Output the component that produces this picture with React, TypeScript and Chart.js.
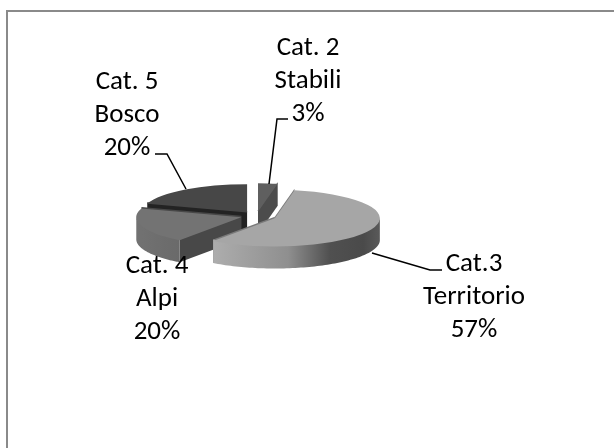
import React, { useEffect, useRef } from "react";
import { Chart, registerables } from "chart.js";

Chart.register(...registerables);

const categories = ["Cat. 2 Stabili", "Cat.3 Territorio", "Cat. 4 Alpi", "Cat. 5 Bosco"];
const values = [3, 57, 20, 20];
const topColors = ["#5f5f5f", "#a6a6a6", "#737373", "#474747"];
const faceColors = ["#4c4c4c", "#7a7a7a", "#484848", "#232323"];
const explode = [16, 20, 16, 16];
const rimStops: [number, string][][] = [
  [[0, "#505050"], [1, "#505050"]],
  [[0, "#adadad"], [0.45, "#8f8f8f"], [0.7, "#505050"], [0.9, "#4a4a4a"], [1, "#5a5a5a"]],
  [[0, "#727272"], [1, "#6a6a6a"]],
  [[0, "#333333"], [1, "#333333"]],
];
const drawOrder = [3, 0, 2, 1];
const labelLines = [
  ["Cat. 2", "Stabili", "3%"],
  ["Cat.3", "Territorio", "57%"],
  ["Cat. 4", "Alpi", "20%"],
  ["Cat. 5", "Bosco", "20%"],
];
const labelCenters = [
  [308, 81],
  [474, 297],
  [157, 299],
  [127, 115],
];
const leaders = [
  [[288, 119], [277, 119], [269, 184]],
  [[442, 270], [430, 270], [372, 253]],
  [],
  [[155, 154], [167, 154], [186, 189]],
];

const SQUASH = 0.27;
const DEPTH = 22;
const OVERLAP = 1.5;
const FONT = '27px Carlito, Calibri, "Open Sans", "Noto Sans", sans-serif';

const pie3d = {
  id: "pie3d",
  afterDatasetsUpdate(chart: any) {
    // explode each slice by moving its arc element along its bisector
    chart.getDatasetMeta(0).data.forEach((arc: any, i: number) => {
      const mid = (arc.startAngle + arc.endAngle) / 2;
      arc.x += Math.cos(mid) * explode[i];
      arc.y += Math.sin(mid) * explode[i];
    });
  },
  beforeDatasetsDraw(chart: any) {
    const { ctx } = chart;
    const arcs = chart.getDatasetMeta(0).data;
    const cy = chart.chartArea.top + chart.chartArea.height / 2;
    const yOf = (y: number) => cy + (y - cy) * SQUASH;
    ctx.save();
    drawOrder.forEach((i) => {
      const arc = arcs[i];
      const r = arc.outerRadius;
      const ox = arc.x;
      const oy = arc.y;
      const X = (a: number) => ox + Math.cos(a) * r;
      const Y = (a: number) => yOf(oy + Math.sin(a) * r);
      // cut faces, tucked under the top surface so no seam shows
      [arc.endAngle, arc.startAngle].forEach((a: number) => {
        ctx.fillStyle = faceColors[i];
        ctx.beginPath();
        ctx.moveTo(ox, yOf(oy) - OVERLAP);
        ctx.lineTo(X(a), Y(a) - OVERLAP);
        ctx.lineTo(X(a), Y(a) + DEPTH);
        ctx.lineTo(ox, yOf(oy) + DEPTH);
        ctx.closePath();
        ctx.fill();
      });
      // outer rim: only the front half shows
      const s = Math.max(arc.startAngle, 0);
      const e = Math.min(arc.endAngle, Math.PI);
      if (e > s) {
        const x0 = Math.min(X(s), X(e), s <= Math.PI && e >= Math.PI ? X(Math.PI) : Infinity);
        const x1 = Math.max(X(s), X(e), s <= 0 ? X(0) : -Infinity);
        const g = ctx.createLinearGradient(x0, 0, x1, 0);
        rimStops[i].forEach(([p, c]) => g.addColorStop(p, c));
        ctx.fillStyle = g;
        const steps = 80;
        ctx.beginPath();
        for (let k = 0; k <= steps; k++) {
          const a = s + ((e - s) * k) / steps;
          if (k === 0) ctx.moveTo(X(a), Y(a) - OVERLAP);
          else ctx.lineTo(X(a), Y(a) - OVERLAP);
        }
        for (let k = steps; k >= 0; k--) {
          const a = s + ((e - s) * k) / steps;
          ctx.lineTo(X(a), Y(a) + DEPTH);
        }
        ctx.closePath();
        ctx.fill();
      }
    });
    ctx.restore();
    ctx.save();
    ctx.translate(0, cy);
    ctx.scale(1, SQUASH);
    ctx.translate(0, -cy);
  },
  afterDatasetsDraw(chart: any) {
    const { ctx } = chart;
    ctx.restore();
    ctx.save();
    ctx.strokeStyle = "#000";
    ctx.lineWidth = 1.5;
    leaders.forEach((pts) => {
      if (!pts.length) return;
      ctx.beginPath();
      pts.forEach((p, k) => (k ? ctx.lineTo(p[0], p[1]) : ctx.moveTo(p[0], p[1])));
      ctx.stroke();
    });
    ctx.fillStyle = "#000";
    ctx.font = FONT;
    ctx.textAlign = "center";
    ctx.textBaseline = "middle";
    labelLines.forEach((lines, i) => {
      lines.forEach((t, k) => {
        ctx.fillText(t, labelCenters[i][0], labelCenters[i][1] + (k - 1) * 33);
      });
    });
    ctx.restore();
  },
};

export default function App() {
  const ref = useRef<HTMLCanvasElement>(null);
  useEffect(() => {
    const chart = new Chart(ref.current!, {
      type: "pie",
      data: {
        labels: categories,
        datasets: [{ data: values, backgroundColor: topColors, borderWidth: 0 }],
      },
      options: {
        responsive: false,
        animation: false,
        rotation: 0,
        layout: { padding: { left: 151.5, right: 252.5, top: 111, bottom: 127 } },
        plugins: { legend: { display: false }, tooltip: { enabled: false } },
      },
      plugins: [pie3d],
    });
    return () => chart.destroy();
  }, []);
  return (
    <div style={{ position: "absolute", left: 0, top: 0, width: 614, height: 448, overflow: "hidden", background: "#fff" }}>
      <div
        style={{
          position: "absolute",
          left: 6,
          top: 10,
          width: 608,
          height: 438,
          boxSizing: "border-box",
          borderTop: "2px solid #8a8a8a",
          borderLeft: "2px solid #8a8a8a",
        }}
      />
      <canvas
        ref={ref}
        width={614}
        height={448}
        style={{ position: "absolute", left: 0, top: 0, width: 614, height: 448 }}
      />
    </div>
  );
}
